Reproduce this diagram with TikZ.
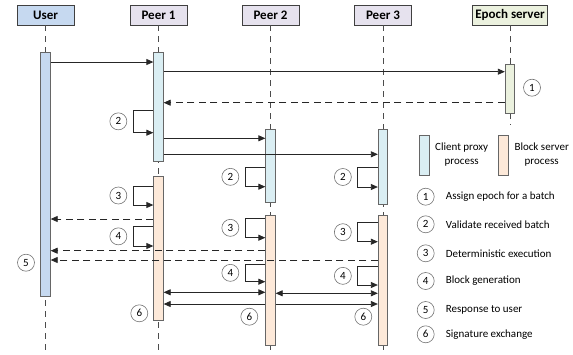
\documentclass[tikz,border=0pt]{standalone}
\usepackage{fontspec}
\setmainfont{Carlito}
\usetikzlibrary{shapes,arrows.meta}
\usetikzlibrary{positioning}

\definecolor{userblue}{RGB}{198,217,240}
\definecolor{peergray}{RGB}{230,226,238}
\definecolor{epochgreen}{RGB}{235,241,222}
\definecolor{clientblue}{RGB}{218,238,243}
\definecolor{blockpeach}{RGB}{253,233,217}

\tikzset{
  head/.style  = {draw=black!75, line width=0.8pt, minimum width=57pt,
                  minimum height=20pt, inner sep=0pt,
                  font=\fontsize{13}{15}\selectfont\bfseries},
  life/.style  = {draw=black!70, line width=0.8pt, dash pattern=on 6pt off 5pt},
  bar/.style   = {draw=black!60, line width=0.8pt, minimum width=9.5pt, inner sep=0pt},
  msg/.style   = {draw=black!85, line width=0.8pt, -{Triangle[length=7pt,width=6pt]}},
  both/.style  = {msg, {Triangle[length=7pt,width=6pt]}-{Triangle[length=7pt,width=6pt]}},
  reply/.style = {msg, dash pattern=on 7pt off 4.5pt},
  num/.style   = {circle, draw=black!55, line width=0.6pt, minimum size=17pt,
                  inner sep=0pt, font=\fontsize{11}{13}\selectfont},
}

% self loop on a bar: bar, top y, bottom y, step number
\newcommand{\selfloop}[4]{%
  \draw[msg] (#1.west |- 0,#2) -- ++(-20,0) |- (#1.west |- 0,#3);
  \path (#1.west |- 0,#2) ++(-35,{(#3-#2)/2}) node[num] (s#4-#1-#2) {#4};
}

\begin{document}
\begin{tikzpicture}[x=1pt, y=-1pt, font=\fontsize{11}{13}\selectfont]
\useasboundingbox (0,0) rectangle (573,354);
\coordinate (bottom) at (0,354);

% heads
\node[head, fill=userblue]   (user)  at (45.5,15)  {User};
\node[head, fill=peergray]   (peer1) at (158.5,15) {Peer 1};
\node[head, fill=peergray]   (peer2) at (270.5,15) {Peer 2};
\node[head, fill=peergray]   (peer3) at (383,15)   {Peer 3};
\node[head, fill=epochgreen, minimum width=75pt]
                             (epoch) at (510,15)   {Epoch server};

% life lines
\draw[life] (user.south)  -- (user |- bottom);
\draw[life] (peer1.south) -- (peer1 |- bottom);
\draw[life] (peer2.south) -- (peer2 |- bottom);
\draw[life] (peer3.south) -- (peer3 |- bottom);
\draw[life] (epoch.south) -- (epoch |- 0,125);

% process bars
\node[bar, fill=userblue,   minimum height=244pt]   (ubar) at (45.5,174.7)  {};
\node[bar, fill=clientblue, minimum height=108.3pt] (p1c)  at (158.5,106.9) {};
\node[bar, fill=blockpeach, minimum height=143.3pt] (p1b)  at (158.5,248.4) {};
\node[bar, fill=clientblue, minimum height=73pt]    (p2c)  at (270.5,165.5) {};
\node[bar, fill=blockpeach, minimum height=130.7pt] (p2b)  at (270.5,280.4) {};
\node[bar, fill=clientblue, minimum height=74.7pt]  (p3c)  at (383,166.7)   {};
\node[bar, fill=blockpeach, minimum height=130.7pt] (p3b)  at (383,280.4)   {};
\node[bar, fill=epochgreen, minimum height=49pt]    (ebar) at (510,88.8)    {};

% batch to epoch server
\draw[msg]   (ubar.east |- 0,62)    -- (p1c.west |- 0,62);
\draw[msg]   (p1c.east |- 0,71.7)   -- (ebar.west |- 0,71.7);
\draw[reply] (ebar.west |- 0,102.7) -- (p1c.east |- 0,102.7);
\node[num] (n1) at (532,87.7) {1};

% validation
\selfloop{p1c}{110}{132.7}{2}
\draw[msg] (p1c.east |- 0,138.3) -- (p2c.west |- 0,138.3);
\draw[msg] (p1c.east |- 0,154.3) -- (p3c.west |- 0,154.3);
\selfloop{p2c}{167}{186.7}{2}
\selfloop{p3c}{167}{187}{2}

% execution and response
\selfloop{p1b}{186}{205}{3}
\draw[reply] (p1b.west |- 0,219) -- (ubar.east |- 0,219);
\selfloop{p1b}{226.7}{246}{4}
\selfloop{p2b}{218}{237.7}{3}
\selfloop{p3b}{222.7}{241.7}{3}
\draw[reply] (p2b.west |- 0,250.7) -- (ubar.east |- 0,250.7);
\draw[reply] (p3b.west |- 0,260)   -- (ubar.east |- 0,260);
\node[num] (n5) at (26,262.7) {5};
\selfloop{p2b}{264}{281.7}{4}
\selfloop{p3b}{266.7}{285}{4}

% signatures
\draw[both] (p1b.east |- 0,292.3) -- (p2b.west |- 0,292.3);
\draw[both] (p2b.east |- 0,293.3) -- (p3b.west |- 0,293.3);
\draw[msg]  (p2b.west |- 0,304)   -- (p1b.east |- 0,304);
\draw[msg]  (p2b.east |- 0,304)   -- (p3b.west |- 0,304);
\node[num] (n6a) at (139.3,313.3) {6};
\node[num] (n6b) at (249.3,316.7) {6};
\node[num] (n6c) at (363.3,316.7) {6};

% legend
\node[bar, fill=clientblue, minimum height=39.3pt] (lc) at (424.2,155.4) {};
\node[align=center, font=\fontsize{11}{14}\selectfont] (lct) at (461.7,155) {Client proxy\\process};
\node[bar, fill=blockpeach, minimum height=39.3pt] (lb) at (503.3,155.4) {};
\node[align=center, font=\fontsize{11}{14}\selectfont] (lbt) at (541.7,155) {Block server\\process};
\foreach \n/\y/\txt in {1/196.7/Assign epoch for a batch,
                        2/224.3/Validate received batch,
                        3/253.3/Deterministic execution,
                        4/281/Block generation,
                        5/310/Response to user,
                        6/334.3/Signature exchange}{
  \node[num] (k\n) at (425.7,\y) {\n};
  \node[anchor=west, inner sep=0pt] (t\n) at (445.7,\y) {\txt};
}
\end{tikzpicture}
\end{document}
